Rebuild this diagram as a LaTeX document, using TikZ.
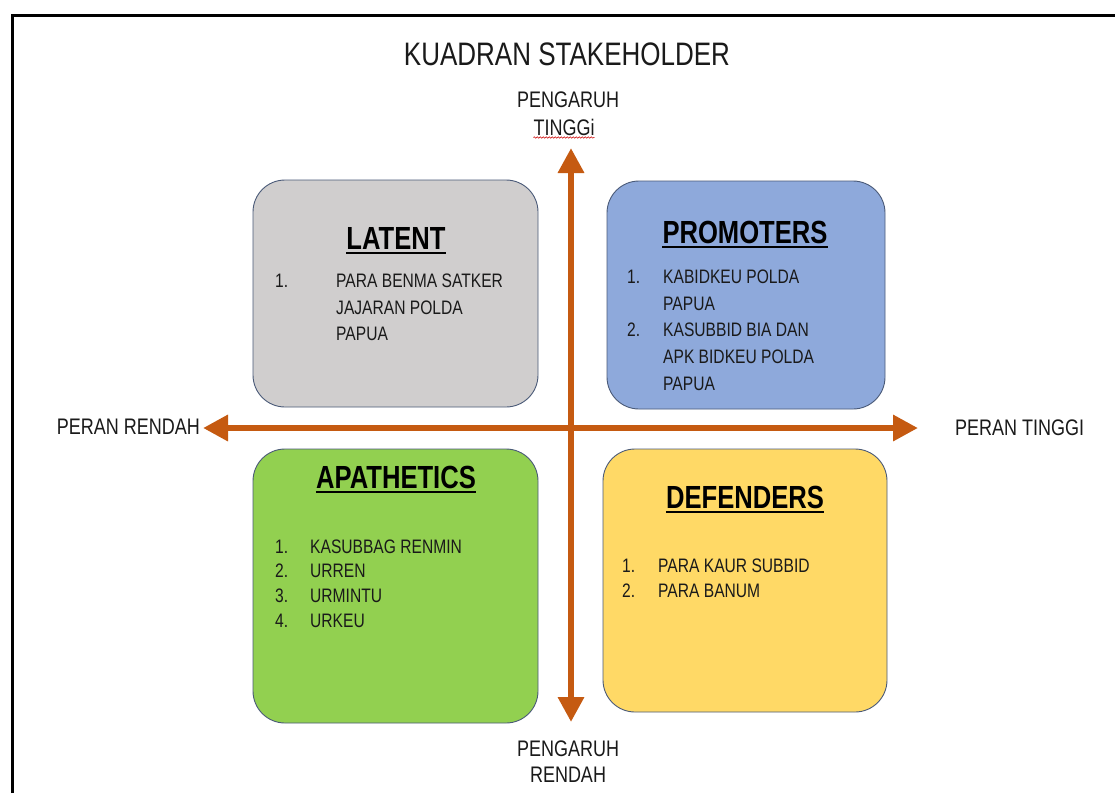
\documentclass[tikz,border=0pt]{standalone}
\usepackage{fontspec}
\setmainfont{Liberation Sans}[FakeStretch=0.80]
\usetikzlibrary{arrows.meta,decorations.pathmorphing}
\definecolor{axiscol}{HTML}{C55A11}
\definecolor{latentcol}{HTML}{D0CECE}
\definecolor{promcol}{HTML}{8EA9DB}
\definecolor{apatcol}{HTML}{92D050}
\definecolor{defcol}{HTML}{FFD966}
\definecolor{edgecol}{HTML}{4A5A78}
\definecolor{txtcol}{HTML}{1A1A1A}
\tikzset{
  quad/.style={draw=edgecol, line width=0.9pt, rounded corners=32pt},
  axis/.style={draw=axiscol, line width=6.5pt,
    {Triangle[width=25pt,length=25pt]}-{Triangle[width=25pt,length=25pt]}},
  heading/.style={inner sep=0pt, font=\bfseries\fontsize{32}{38}\selectfont, text=black},
  ulin/.style={line width=2.4pt, black},
  num/.style={inner sep=0pt, anchor=base west, font=\fontsize{19.5}{23}\selectfont, text=txtcol},
  item/.style={inner sep=0pt, anchor=base west, font=\fontsize{19.5}{23}\selectfont, text=txtcol},
  lbl/.style={inner sep=0pt, font=\fontsize{22.5}{26}\selectfont, text=txtcol, align=center},
}
\begin{document}
\begin{tikzpicture}[x=1pt,y=-1pt]
\useasboundingbox (0,0) rectangle (1115,793);
\fill[white] (0,0) rectangle (1115,793);
% frame
\draw[line width=3pt, black] (12,793) -- (12,15) -- (1115,15);
% title
\node[inner sep=0pt, font=\fontsize{32.5}{38}\selectfont, text=txtcol] (title) at (567,54) {KUADRAN STAKEHOLDER};
% quadrant boxes
\draw[quad, fill=latentcol] (253,180) rectangle (538,407);
\draw[quad, fill=promcol] (607,181) rectangle (885,409);
\draw[quad, fill=apatcol] (253,449) rectangle (538,723);
\draw[quad, fill=defcol] (603,449) rectangle (887,712);
% axes
\coordinate (L) at (203,428);
\coordinate (R) at (918,428);
\coordinate (T) at (571,148);
\coordinate (B) at (571,722);
\draw[axis] (L) -- (R);
\draw[axis] (B) -- (T);
% axis labels
\node[lbl] (top1) at (568,100) {PENGARUH};
\node[lbl] (top2) at (564,127) {TINGGi};
\draw[red!80!black, line width=0.5pt, decorate, decoration={snake, amplitude=0.7pt, segment length=3pt}]
  ([yshift=-2pt]top2.south west) -- ([yshift=-2pt]top2.south east);
\node[lbl] (bot) at (568,762) {PENGARUH\\RENDAH};
\node[lbl, anchor=east] (lft) at (200,427) {PERAN RENDAH};
\node[lbl, anchor=west] (rgt) at (955,428) {PERAN TINGGI};
% LATENT
\node[heading] (hl) at (396,238) {LATENT};
\draw[ulin] ([yshift=-4pt]hl.base west) -- ([yshift=-4pt]hl.base east);
\node[num] at (275,287) {1.};
\node[item] at (336,287) {PARA BENMA SATKER};
\node[item] at (336,314) {JAJARAN POLDA};
\node[item] at (336,340) {PAPUA};
% PROMOTERS
\node[heading] (hp) at (745,232) {PROMOTERS};
\draw[ulin] ([yshift=-4pt]hp.base west) -- ([yshift=-4pt]hp.base east);
\node[num] at (627,283) {1.};
\node[item] at (663,283) {KABIDKEU POLDA};
\node[item] at (663,310) {PAPUA};
\node[num] at (627,336) {2.};
\node[item] at (663,336) {KASUBBID BIA DAN};
\node[item] at (663,363) {APK BIDKEU POLDA};
\node[item] at (663,390) {PAPUA};
% APATHETICS
\node[heading] (ha) at (396,477) {APATHETICS};
\draw[ulin] ([yshift=-4pt]ha.base west) -- ([yshift=-4pt]ha.base east);
\node[num] at (275,553) {1.};
\node[item] at (310,553) {KASUBBAG RENMIN};
\node[num] at (275,577) {2.};
\node[item] at (310,577) {URREN};
\node[num] at (275,602) {3.};
\node[item] at (310,602) {URMINTU};
\node[num] at (275,627) {4.};
\node[item] at (310,627) {URKEU};
% DEFENDERS
\node[heading] (hd) at (745,497) {DEFENDERS};
\draw[ulin] ([yshift=-4pt]hd.base west) -- ([yshift=-4pt]hd.base east);
\node[num] at (622,572) {1.};
\node[item] at (658,572) {PARA KAUR SUBBID};
\node[num] at (622,597) {2.};
\node[item] at (658,597) {PARA BANUM};
\end{tikzpicture}
\end{document}
